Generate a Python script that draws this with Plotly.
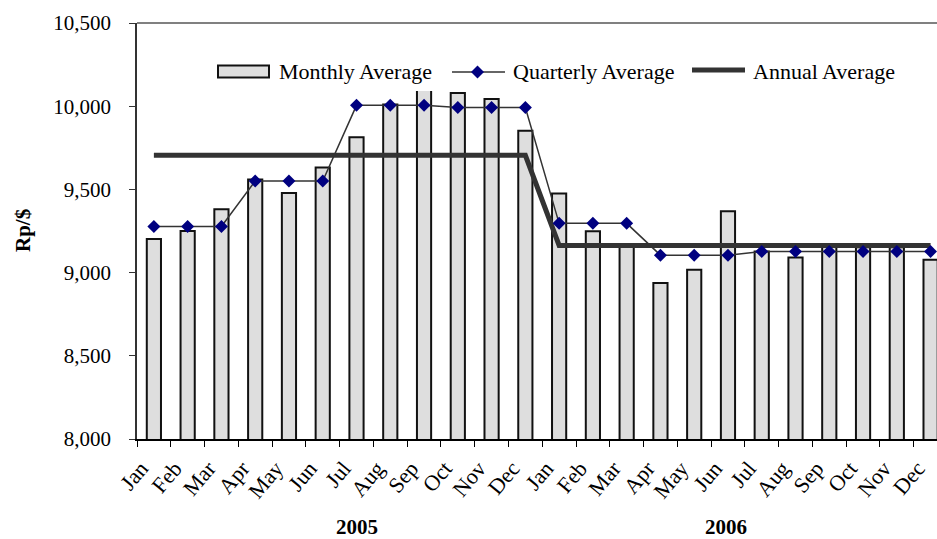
import plotly.graph_objects as go

# Rupiah per US dollar, 2005-2006
years = ["2005", "2006"]
months = ["Jan", "Feb", "Mar", "Apr", "May", "Jun",
          "Jul", "Aug", "Sep", "Oct", "Nov", "Dec"]

monthly_2005 = [9202, 9250, 9380, 9560, 9478, 9632, 9813, 10010, 10192, 10080, 10044, 9853]
monthly_2006 = [9476, 9248, 9164, 8937, 9017, 9368, 9127, 9091, 9163, 9152, 9152, 9077]

quarterly_2005 = [9277, 9550, 10005, 9992]
quarterly_2006 = [9296, 9105, 9127, 9127]

annual = [9705, 9163]

# one category per month, labelled by month name only
cats = [f"{m} {y}" for y in years for m in months]
monthly = monthly_2005 + monthly_2006
quarterly = [q for q in quarterly_2005 + quarterly_2006 for _ in range(3)]
annual_by_month = [a for a in annual for _ in range(12)]

W, H = 937, 539
ML, MR, MT, MB = 137, 0, 23, 100
PW, PH = W - ML - MR, H - MT - MB


def px_x(px):
    return (px - ML) / PW


def px_y(py):
    return (H - MB - py) / PH


SERIF = "Liberation Serif"

fig = go.Figure()
fig.add_bar(
    x=cats, y=monthly, name="Monthly Average",
    marker=dict(color="#dedede", line=dict(color="#111111", width=2)),
)
fig.add_scatter(
    x=cats, y=annual_by_month, name="Annual Average", mode="lines",
    line=dict(color="#333333", width=5),
)
fig.add_scatter(
    x=cats, y=quarterly, name="Quarterly Average", mode="lines+markers",
    line=dict(color="#333333", width=1.5),
    marker=dict(symbol="diamond", size=10, color="#000080"),
)

# hand-built legend box drawn over the plot
shapes = [
    dict(type="rect", xref="paper", yref="paper", layer="above",
         x0=px_x(208), x1=px_x(912), y0=px_y(91), y1=px_y(50),
         fillcolor="white", line=dict(width=0)),
    dict(type="rect", xref="paper", yref="paper", layer="above",
         x0=px_x(218), x1=px_x(269), y0=px_y(77.5), y1=px_y(65.5),
         fillcolor="#dedede", line=dict(color="#111111", width=2)),
    dict(type="line", xref="paper", yref="paper", layer="above",
         x0=px_x(452), x1=px_x(505), y0=px_y(72), y1=px_y(72),
         line=dict(color="#333333", width=1.5)),
    dict(type="path", xref="paper", yref="paper", layer="above",
         path=(f"M {px_x(477.5 - 6.5)} {px_y(72)} L {px_x(477.5)} {px_y(72 - 6.5)} "
               f"L {px_x(477.5 + 6.5)} {px_y(72)} L {px_x(477.5)} {px_y(72 + 6.5)} Z"),
         fillcolor="#000080", line=dict(width=0)),
    dict(type="line", xref="paper", yref="paper", layer="above",
         x0=px_x(692), x1=px_x(745), y0=px_y(70), y1=px_y(70),
         line=dict(color="#333333", width=5)),
    # top border of the plot area
    dict(type="line", xref="paper", yref="paper", layer="above",
         x0=0, x1=1, y0=1, y1=1, line=dict(color="#808080", width=2)),
]

legend_font = dict(family=SERIF, size=22, color="black")
annotations = [
    dict(text="Monthly Average", x=px_x(277), y=px_y(71), xanchor="left", yanchor="middle"),
    dict(text="Quarterly Average", x=px_x(511), y=px_y(71), xanchor="left", yanchor="middle"),
    dict(text="Annual Average", x=px_x(751), y=px_y(71), xanchor="left", yanchor="middle"),
]
for a in annotations:
    a.update(xref="paper", yref="paper", showarrow=False, font=legend_font)

annotations += [
    dict(text="<b>Rp/$</b>", x=px_x(23), y=0.5, xref="paper", yref="paper",
         textangle=-90, showarrow=False, xanchor="center", yanchor="middle",
         font=dict(family=SERIF, size=21, color="black")),
    dict(text="<b>2005</b>", x=px_x(357), y=px_y(527), xref="paper", yref="paper",
         showarrow=False, xanchor="center", yanchor="middle",
         font=dict(family=SERIF, size=21, color="black")),
    dict(text="<b>2006</b>", x=px_x(726), y=px_y(527), xref="paper", yref="paper",
         showarrow=False, xanchor="center", yanchor="middle",
         font=dict(family=SERIF, size=21, color="black")),
]

fig.update_layout(
    width=W, height=H,
    margin=dict(l=ML, r=MR, t=MT, b=MB, autoexpand=False),
    paper_bgcolor="white", plot_bgcolor="white",
    showlegend=False,
    bargap=0.58,
    shapes=shapes,
    annotations=annotations,
    font=dict(family=SERIF, color="black"),
)
fig.update_xaxes(
    type="category", range=[-0.5, 23.19],
    tickmode="array", tickvals=cats, ticktext=months * 2,
    tickson="boundaries", ticks="outside", ticklen=6, tickcolor="black",
    tickangle=-50, tickfont=dict(family=SERIF, size=22, color="black"),
    ticklabelshift=-13, ticklabelstandoff=6,
    showline=True, linecolor="black", linewidth=1.5, showgrid=False,
    zeroline=False,
)
fig.update_yaxes(
    range=[8000, 10500], tick0=8000, dtick=500, tickformat=",",
    ticks="outside", ticklen=6, tickcolor="#333333",
    tickfont=dict(family=SERIF, size=21, color="black"),
    ticklabelstandoff=14,
    showline=True, linecolor="#333333", linewidth=1.5, showgrid=False,
    zeroline=False,
)

fig.write_html("out.html")
